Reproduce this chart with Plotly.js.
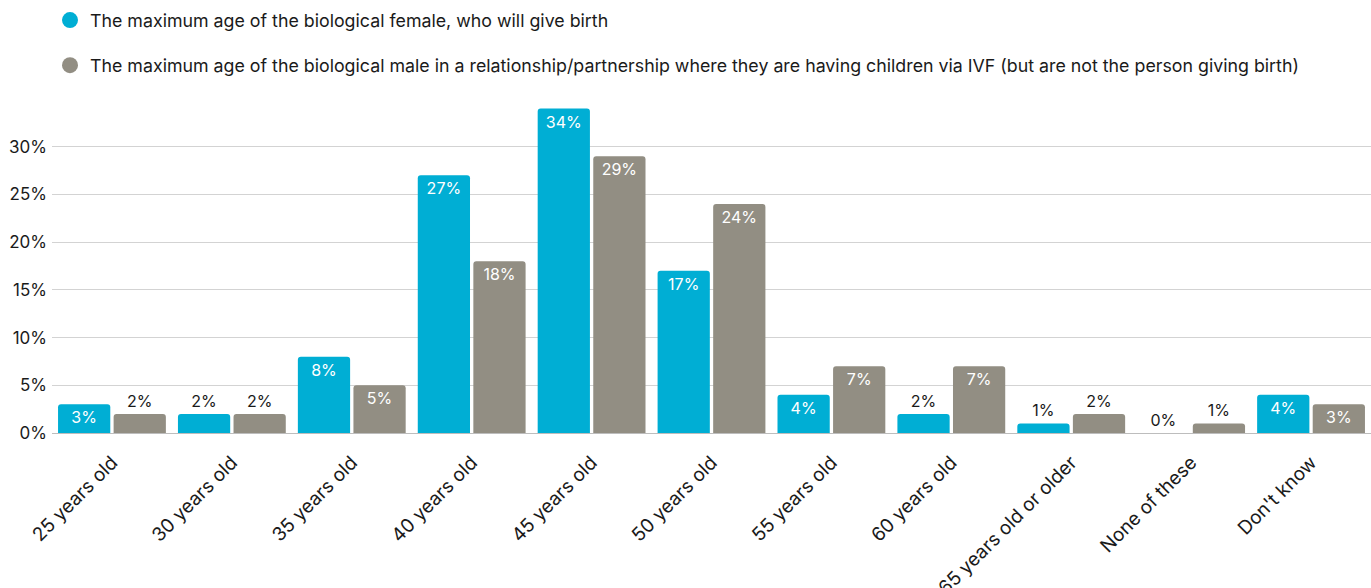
<!DOCTYPE html>
<html><head><meta charset="utf-8">
<script src="https://cdn.plot.ly/plotly-3.0.1.min.js"></script>
<style>html,body{margin:0;padding:0;background:#fff}#chart{width:1371px;height:588px}</style>
</head><body><div id="chart"></div>
<script>
const categories = ["25 years old","30 years old","35 years old","40 years old","45 years old","50 years old","55 years old","60 years old","65 years old or older","None of these","Don't know"];
const femaleValues = [3,2,8,27,34,17,4,2,1,0,4];
const maleValues = [2,2,5,18,29,24,7,7,2,1,3];
const seriesNames = ["The maximum age of the biological female, who will give birth",
  "The maximum age of the biological male in a relationship/partnership where they are having children via IVF (but are not the person giving birth)"];
const yTickVals = [0,5,10,15,20,25,30];
const yTickText = ["0%","5%","10%","15%","20%","25%","30%"];
const colors = ["#00AED4","#928E83"];
const FONT = "Inter, 'Liberation Sans', Arial, sans-serif";

function barTrace(vals, i){
  return {
    type:'bar', x:categories, y:vals, name:seriesNames[i], showlegend:false,
    marker:{color:colors[i]},
    text: vals.map(v=>v+'%'),
    textposition: vals.map(v=> v>=3 ? 'inside':'outside'),
    insidetextanchor:'end',
    insidetextfont:{color:'#ffffff', size:16, family:FONT},
    outsidetextfont:{color:'#1a1a1a', size:16, family:FONT},
    textangle:0, cliponaxis:false, hoverinfo:'skip'
  };
}
function legendTrace(i){
  return {type:'scatter', mode:'markers', x:[null], y:[null], name:seriesNames[i],
    marker:{color:colors[i], size:16, symbol:'circle'}, legendgroup:'g'+i, hoverinfo:'skip'};
}
const data = [barTrace(femaleValues,0), barTrace(maleValues,1), legendTrace(0), legendTrace(1)];
const layout = {
  width:1371, height:588,
  margin:{l:52, r:0, t:99, b:155, autoexpand:false},
  paper_bgcolor:'#fff', plot_bgcolor:'#fff',
  font:{family:FONT, size:17, color:'#1a1a1a'},
  barmode:'group', bargap:0.073, bargroupgap:0.06, barcornerradius:3,
  showlegend:true,
  legend:{orientation:'v', x:50/1371, xref:'container', xanchor:'left', y:1-2/588, yref:'container', yanchor:'top',
    font:{size:17.8, family:FONT, color:'#1a1a1a'}, traceorder:'grouped', tracegroupgap:19, itemsizing:'trace'},
  xaxis:{type:'category', tickangle:-45, tickfont:{size:19}, ticklabelstandoff:10, showgrid:false, showline:true, linecolor:'#bdbdbd', linewidth:1, ticks:'', automargin:false},
  yaxis:{range:[0,35], tickvals:yTickVals, ticktext:yTickText, showgrid:true, gridcolor:'#d3d3d3', gridwidth:1, zeroline:false, ticks:'', ticklabelstandoff:4, tickfont:{size:17}, automargin:false, showline:false}
};
Plotly.newPlot('chart', data, layout, {displayModeBar:false, staticPlot:true});
</script></body></html>
